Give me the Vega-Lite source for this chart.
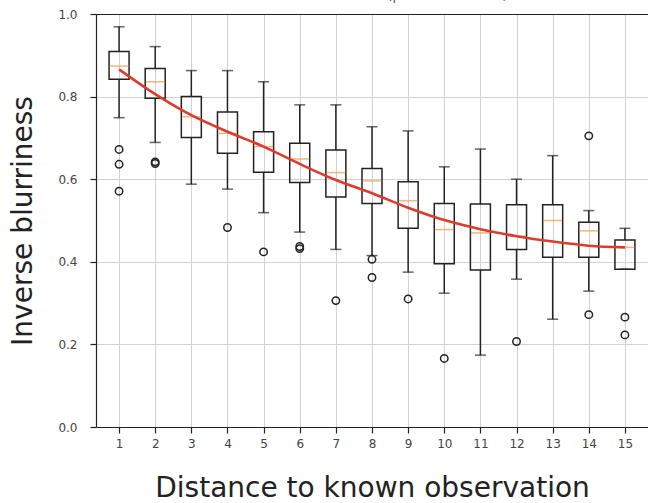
{
  "$schema": "https://vega.github.io/schema/vega-lite/v6.json",
  "width": 552,
  "height": 413,
  "autosize": {"type": "none"},
  "padding": {"left": 96, "top": 14, "right": 0, "bottom": 76},
  "background": "white",
  "title": {"text": "Blurriness vs. distance (pooled over runs)", "font": "DejaVu Sans", "fontSize": 13, "fontWeight": "normal", "color": "#555", "anchor": "middle", "offset": 5},
  "config": {
    "view": {"stroke": null},
    "axis": {
      "labelFont": "DejaVu Sans", "labelFontSize": 12, "labelColor": "#444",
      "titleFont": "DejaVu Sans", "titleFontSize": 28, "titleFontWeight": "normal", "titleColor": "#222",
      "domainColor": "#222", "domainWidth": 1.2, "tickColor": "#222", "tickSize": 6, "tickWidth": 1.2,
      "gridColor": "#d2d2d2", "gridWidth": 1
    }
  },
  "datasets": {
    "boxes": [
      {"d": 1, "lo": 0.749, "q1": 0.842, "med": 0.874, "q3": 0.909, "hi": 0.969},
      {"d": 2, "lo": 0.689, "q1": 0.796, "med": 0.836, "q3": 0.868, "hi": 0.921},
      {"d": 3, "lo": 0.588, "q1": 0.701, "med": 0.751, "q3": 0.800, "hi": 0.863},
      {"d": 4, "lo": 0.576, "q1": 0.663, "med": 0.711, "q3": 0.763, "hi": 0.863},
      {"d": 5, "lo": 0.519, "q1": 0.617, "med": 0.679, "q3": 0.715, "hi": 0.836},
      {"d": 6, "lo": 0.472, "q1": 0.592, "med": 0.649, "q3": 0.687, "hi": 0.780},
      {"d": 7, "lo": 0.430, "q1": 0.557, "med": 0.616, "q3": 0.671, "hi": 0.780},
      {"d": 8, "lo": 0.415, "q1": 0.541, "med": 0.596, "q3": 0.626, "hi": 0.727},
      {"d": 9, "lo": 0.375, "q1": 0.481, "med": 0.548, "q3": 0.594, "hi": 0.717},
      {"d": 10, "lo": 0.324, "q1": 0.395, "med": 0.478, "q3": 0.541, "hi": 0.630},
      {"d": 11, "lo": 0.174, "q1": 0.380, "med": 0.470, "q3": 0.540, "hi": 0.673},
      {"d": 12, "lo": 0.358, "q1": 0.430, "med": 0.462, "q3": 0.538, "hi": 0.600},
      {"d": 13, "lo": 0.261, "q1": 0.411, "med": 0.500, "q3": 0.538, "hi": 0.657},
      {"d": 14, "lo": 0.329, "q1": 0.411, "med": 0.475, "q3": 0.496, "hi": 0.524},
      {"d": 15, "lo": 0.382, "q1": 0.382, "med": 0.435, "q3": 0.453, "hi": 0.481}
    ],
    "outliers": [
      {"d": 1, "v": 0.672}, {"d": 1, "v": 0.636}, {"d": 1, "v": 0.571},
      {"d": 2, "v": 0.638}, {"d": 2, "v": 0.642},
      {"d": 4, "v": 0.483},
      {"d": 5, "v": 0.424},
      {"d": 6, "v": 0.432}, {"d": 6, "v": 0.437},
      {"d": 7, "v": 0.306},
      {"d": 8, "v": 0.406}, {"d": 8, "v": 0.362},
      {"d": 9, "v": 0.310},
      {"d": 10, "v": 0.166},
      {"d": 12, "v": 0.207},
      {"d": 14, "v": 0.705}, {"d": 14, "v": 0.272},
      {"d": 15, "v": 0.266}, {"d": 15, "v": 0.223}
    ],
    "curve": [
      {"d": 1, "fit": 0.866}, {"d": 2, "fit": 0.806}, {"d": 3, "fit": 0.755},
      {"d": 4, "fit": 0.715}, {"d": 5, "fit": 0.679}, {"d": 6, "fit": 0.637},
      {"d": 7, "fit": 0.598}, {"d": 8, "fit": 0.566}, {"d": 9, "fit": 0.531},
      {"d": 10, "fit": 0.501}, {"d": 11, "fit": 0.479}, {"d": 12, "fit": 0.462},
      {"d": 13, "fit": 0.449}, {"d": 14, "fit": 0.439}, {"d": 15, "fit": 0.435}
    ]
  },
  "layer": [
    {
      "encoding": {
        "x": {
          "field": "d", "type": "quantitative",
          "scale": {"domain": [0.5, 15.5], "nice": false, "zero": false},
          "axis": {"title": "Distance to known observation", "values": [1,2,3,4,5,6,7,8,9,10,11,12,13,14,15], "format": "d", "grid": true, "labelPadding": 5, "titlePadding": 25}
        }
      },
      "layer": [
        {
          "data": {"name": "boxes"},
          "mark": {"type": "rule", "stroke": "#222", "strokeWidth": 1.5},
          "encoding": {
            "y": {"field": "lo", "type": "quantitative", "scale": {"domain": [0, 1], "nice": false},
                  "axis": {"title": "Inverse blurriness", "values": [0, 0.2, 0.4, 0.6, 0.8, 1.0], "format": ".1f", "grid": true, "labelPadding": 13, "titlePadding": 20}},
            "y2": {"field": "q1"}
          }
        },
        {
          "data": {"name": "boxes"},
          "mark": {"type": "rule", "stroke": "#222", "strokeWidth": 1.5},
          "encoding": {
            "y": {"field": "q3", "type": "quantitative", "scale": {"domain": [0, 1], "nice": false},
                  "axis": {"title": "Inverse blurriness", "values": [0, 0.2, 0.4, 0.6, 0.8, 1.0], "format": ".1f", "grid": true, "labelPadding": 13, "titlePadding": 20}},
            "y2": {"field": "hi"}
          }
        },
        {
          "data": {"name": "boxes"},
          "mark": {"type": "tick", "orient": "horizontal", "size": 11, "thickness": 1.5, "color": "#222"},
          "encoding": {
            "y": {"field": "lo", "type": "quantitative", "scale": {"domain": [0, 1], "nice": false},
                  "axis": {"title": "Inverse blurriness", "values": [0, 0.2, 0.4, 0.6, 0.8, 1.0], "format": ".1f", "grid": true, "labelPadding": 13, "titlePadding": 20}}
          }
        },
        {
          "data": {"name": "boxes"},
          "mark": {"type": "tick", "orient": "horizontal", "size": 11, "thickness": 1.5, "color": "#222"},
          "encoding": {
            "y": {"field": "hi", "type": "quantitative", "scale": {"domain": [0, 1], "nice": false},
                  "axis": {"title": "Inverse blurriness", "values": [0, 0.2, 0.4, 0.6, 0.8, 1.0], "format": ".1f", "grid": true, "labelPadding": 13, "titlePadding": 20}}
          }
        },
        {
          "data": {"name": "boxes"},
          "mark": {"type": "bar", "size": 20, "fill": "white", "fillOpacity": 0, "stroke": "#222", "strokeWidth": 1.5},
          "encoding": {
            "y": {"field": "q1", "type": "quantitative", "scale": {"domain": [0, 1], "nice": false},
                  "axis": {"title": "Inverse blurriness", "values": [0, 0.2, 0.4, 0.6, 0.8, 1.0], "format": ".1f", "grid": true, "labelPadding": 13, "titlePadding": 20}},
            "y2": {"field": "q3"}
          }
        },
        {
          "data": {"name": "boxes"},
          "mark": {"type": "tick", "orient": "horizontal", "size": 19, "thickness": 1.5, "color": "#f59545"},
          "encoding": {
            "y": {"field": "med", "type": "quantitative", "scale": {"domain": [0, 1], "nice": false},
                  "axis": {"title": "Inverse blurriness", "values": [0, 0.2, 0.4, 0.6, 0.8, 1.0], "format": ".1f", "grid": true, "labelPadding": 13, "titlePadding": 20}}
          }
        },
        {
          "data": {"name": "outliers"},
          "mark": {"type": "point", "shape": "circle", "filled": false, "size": 55, "stroke": "#222", "strokeWidth": 1.5, "opacity": 1},
          "encoding": {
            "y": {"field": "v", "type": "quantitative", "scale": {"domain": [0, 1], "nice": false},
                  "axis": {"title": "Inverse blurriness", "values": [0, 0.2, 0.4, 0.6, 0.8, 1.0], "format": ".1f", "grid": true, "labelPadding": 13, "titlePadding": 20}}
          }
        }
      ]
    },
    {
      "data": {"name": "curve"},
      "mark": {"type": "line", "color": "#dc3b2e", "strokeWidth": 2.6, "interpolate": "monotone"},
      "encoding": {
        "x": {"field": "d", "type": "quantitative", "scale": {"domain": [0.5, 15.5], "nice": false, "zero": false},
              "axis": {"orient": "top", "labels": false, "ticks": false, "grid": false, "title": null, "domain": true}},
        "y": {"field": "fit", "type": "quantitative", "scale": {"domain": [0, 1], "nice": false},
              "axis": {"title": "Inverse blurriness", "values": [0, 0.2, 0.4, 0.6, 0.8, 1.0], "format": ".1f", "grid": true, "labelPadding": 13, "titlePadding": 20}}
      }
    }
  ],
  "resolve": {"axis": {"x": "independent"}}
}
